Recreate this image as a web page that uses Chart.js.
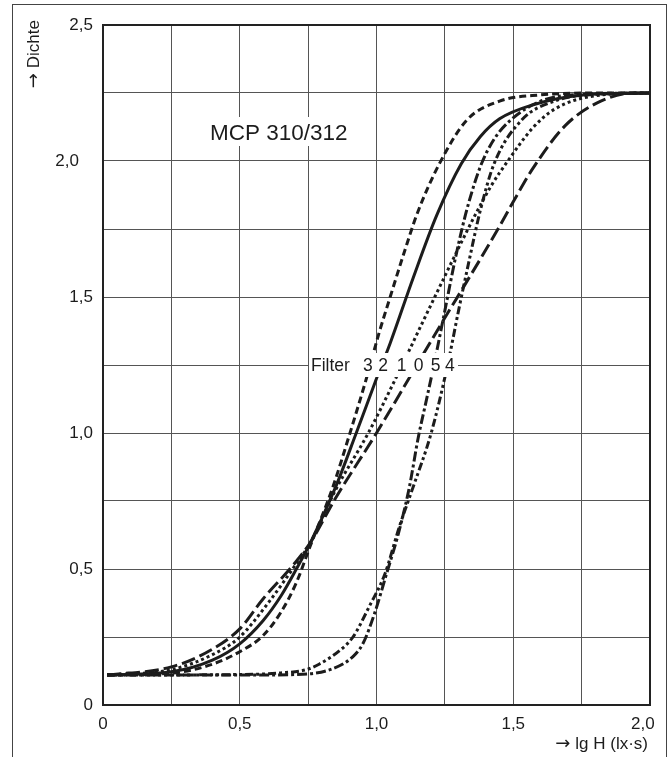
<!DOCTYPE html>
<html>
<head>
<meta charset="utf-8">
<script src="https://cdn.jsdelivr.net/npm/chart.js"></script>
<style>
  body { margin: 0; background: #fff; }
  #wrap { position: relative; width: 672px; height: 757px; }
  #frame { position: absolute; left: 12px; top: 4px; width: 653px; height: 820px;
           border: 1.5px solid #444; pointer-events: none; }
</style>
</head>
<body>
<div id="wrap">
  <canvas id="chart"></canvas>
  <div id="frame"></div>
</div>
<script>
// Schwärzungskurven, Werte: [lg H, Dichte]
const filter3 = [[0.015,0.11],[0.25,0.117],[0.4,0.15],[0.5,0.196],[0.585,0.255],[0.65,0.34],[0.707,0.45],[0.756,0.58],[0.84,0.8],[0.9,0.99],[0.96,1.19],[1.01,1.37],[1.05,1.5],[1.1,1.66],[1.15,1.81],[1.23,1.99],[1.33,2.15],[1.45,2.22],[1.6,2.243],[1.8,2.25],[2.0,2.25]];
const filter2 = [[0.015,0.11],[0.25,0.122],[0.4,0.165],[0.5,0.225],[0.585,0.31],[0.65,0.4],[0.707,0.5],[0.76,0.6],[0.85,0.8],[0.926,1.0],[1.0,1.2],[1.05,1.33],[1.134,1.57],[1.22,1.8],[1.31,1.99],[1.38,2.09],[1.45,2.155],[1.57,2.206],[1.755,2.243],[2.0,2.25]];
const filter1 = [[0.015,0.11],[0.25,0.13],[0.4,0.185],[0.5,0.25],[0.6,0.37],[0.7,0.51],[0.76,0.6],[0.85,0.79],[0.97,1.0],[1.07,1.2],[1.17,1.41],[1.237,1.55],[1.3,1.68],[1.36,1.8],[1.42,1.91],[1.48,2.0],[1.57,2.12],[1.65,2.19],[1.8,2.24],[2.0,2.25]];
const filter0 = [[0.015,0.11],[0.25,0.14],[0.4,0.205],[0.5,0.28],[0.585,0.39],[0.7,0.52],[0.76,0.6],[0.85,0.76],[1.0,1.0],[1.13,1.22],[1.23,1.39],[1.32,1.54],[1.38,1.64],[1.45,1.76],[1.5,1.85],[1.57,1.97],[1.69,2.13],[1.82,2.22],[1.94,2.25],[2.0,2.25]];
const filter5 = [[0.015,0.11],[0.5,0.11],[0.7,0.112],[0.83,0.13],[0.914,0.178],[0.951,0.227],[0.993,0.337],[1.036,0.48],[1.08,0.63],[1.12,0.8],[1.152,0.98],[1.18,1.11],[1.21,1.25],[1.25,1.45],[1.29,1.65],[1.33,1.82],[1.38,1.98],[1.43,2.08],[1.49,2.15],[1.6,2.22],[1.75,2.245],[2.0,2.25]];
const filter4 = [[0.015,0.11],[0.5,0.112],[0.65,0.118],[0.744,0.13],[0.79,0.15],[0.865,0.2],[0.914,0.25],[0.975,0.365],[1.03,0.48],[1.085,0.66],[1.13,0.79],[1.2,1.0],[1.26,1.25],[1.3,1.45],[1.34,1.64],[1.38,1.82],[1.43,1.99],[1.53,2.15],[1.65,2.22],[1.8,2.245],[2.0,2.25]];

const filterNames = ['3', '2', '1', '0', '5', '4'];
const filterLabelX = [0.968, 1.024, 1.092, 1.154, 1.216, 1.268];
const xTitle = 'lg H (lx\u00b7s)';
const yTitle = 'Dichte';
const chartTitle = 'MCP 310/312';

const FONT = '"Liberation Sans", Arial, Helvetica, sans-serif';
const ARROW_FONT = '"DejaVu Sans", sans-serif';
const INK = '#1c1c1c';

function fmt(v) {
  if (Math.abs(v % 0.5) > 1e-9) return '';
  if (v === 0) return '0';
  const s = v.toFixed(1).replace('.', ',');
  return v === 2 ? s + '   ' : s;
}

function curve(points, dash) {
  return {
    data: points.map(p => ({ x: p[0], y: p[1] })),
    borderColor: INK,
    borderWidth: 3,
    borderDash: dash,
    borderCapStyle: 'butt',
    pointRadius: 0,
    fill: false,
    cubicInterpolationMode: 'monotone'
  };
}

// Titel mit Pfeil: Pfeil in DejaVu, Text in Liberation, rechtsbündig an (0,0)
function arrowText(ctx, text, size) {
  ctx.font = size + 'px ' + FONT;
  const w = ctx.measureText(text).width;
  ctx.textAlign = 'right';
  ctx.fillText(text, 0, 0);
  ctx.font = (size + 1) + 'px ' + ARROW_FONT;
  ctx.fillText('\u2192', -w - 5, -0.5);
}

const labelPlugin = {
  id: 'labels',
  beforeDatasetsDraw(chart) {
    const ctx = chart.ctx;
    ctx.save();
    ctx.fillStyle = '#fff';
    ctx.fillRect(206, 117, 152, 29);
    ctx.fillStyle = INK;
    ctx.font = '22.5px ' + FONT;
    ctx.textBaseline = 'alphabetic';
    ctx.textAlign = 'left';
    ctx.fillText(chartTitle, 210, 140);
    ctx.restore();
  },
  afterDatasetsDraw(chart) {
    const ctx = chart.ctx;
    const xs = chart.scales.x, ys = chart.scales.y;
    const a = chart.chartArea;
    ctx.save();
    // Filter-Beschriftung mit weißem Hintergrund
    const yl = ys.getPixelForValue(1.25);
    ctx.fillStyle = '#fff';
    ctx.fillRect(309, yl - 12, 149, 24);
    ctx.fillStyle = INK;
    ctx.font = '17.5px ' + FONT;
    ctx.textBaseline = 'middle';
    ctx.textAlign = 'left';
    ctx.fillText('Filter', 311, yl + 1);
    ctx.textAlign = 'center';
    filterNames.forEach((n, i) => ctx.fillText(n, xs.getPixelForValue(filterLabelX[i]), yl + 1));

    // Rahmen des Diagramms
    ctx.strokeStyle = '#222';
    ctx.lineWidth = 2;
    ctx.strokeRect(a.left, a.top, a.right - a.left, a.bottom - a.top);

    // Achsentitel
    ctx.textBaseline = 'alphabetic';
    ctx.save();
    ctx.translate(648, 749);
    arrowText(ctx, xTitle, 17);
    ctx.restore();
    ctx.translate(39, 20);
    ctx.rotate(-Math.PI / 2);
    arrowText(ctx, yTitle, 17);
    ctx.restore();
  }
};

new Chart(document.getElementById('chart'), {
  type: 'line',
  data: {
    datasets: [
      curve(filter3, [7, 4]),
      curve(filter2, []),
      curve(filter1, [3, 3]),
      curve(filter0, [14, 5]),
      curve(filter5, [10, 3, 3, 3]),
      curve(filter4, [8, 3, 3, 3, 3, 3])
    ]
  },
  options: {
    responsive: true,
    maintainAspectRatio: false,
    animation: false,
    layout: { padding: { top: 25, right: 22, left: 0, bottom: 0 } },
    plugins: { legend: { display: false }, tooltip: { enabled: false } },
    scales: {
      x: {
        type: 'linear', min: 0, max: 2,
        afterFit(s) { s.height = 52; s.paddingLeft = 0; s.paddingRight = 0; },
        border: { display: false },
        grid: { color: '#555', lineWidth: 1, drawTicks: false },
        ticks: { stepSize: 0.25, autoSkip: false, maxRotation: 0, padding: 9,
                 color: INK, font: { family: FONT, size: 17 }, callback: fmt }
      },
      y: {
        type: 'linear', min: 0, max: 2.5,
        afterFit(s) { s.width = 103; s.paddingTop = 0; s.paddingBottom = 0; },
        border: { display: false },
        grid: { color: '#555', lineWidth: 1, drawTicks: false },
        ticks: { stepSize: 0.25, autoSkip: false, padding: 10,
                 color: INK, font: { family: FONT, size: 17 }, callback: fmt }
      }
    }
  },
  plugins: [labelPlugin]
});
</script>
</body>
</html>
